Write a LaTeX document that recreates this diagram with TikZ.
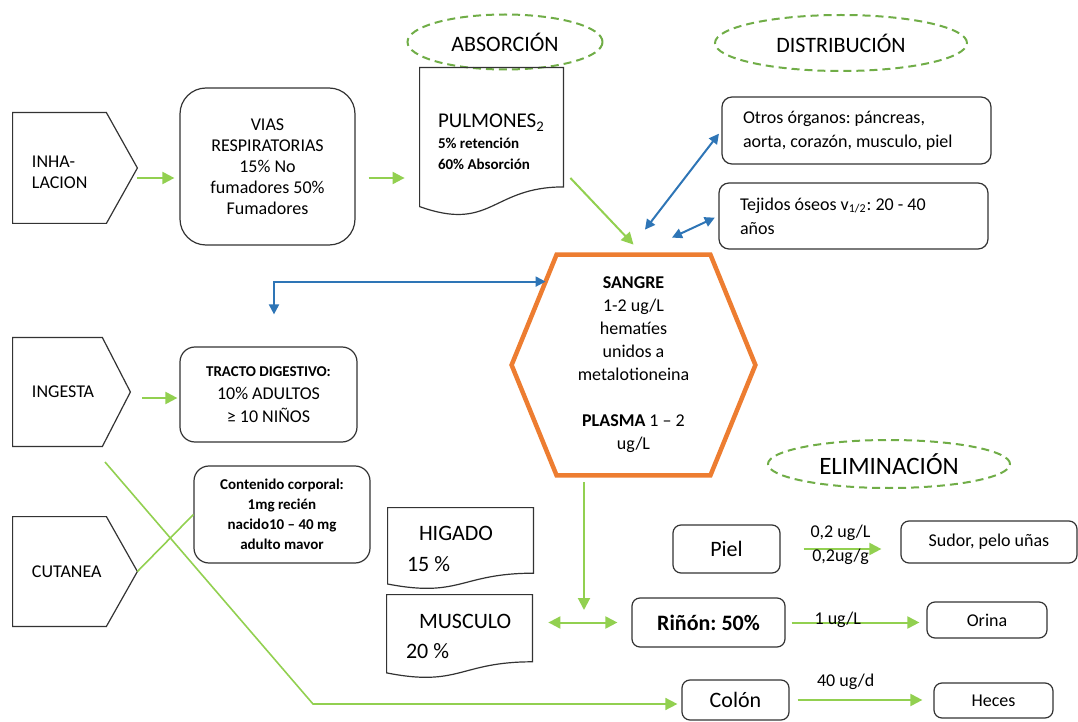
\documentclass[tikz,border=0pt]{standalone}
\usepackage{fontspec}
\setmainfont{Carlito}
\usepackage{xcolor}
\usepackage{tikz}
\usetikzlibrary{shapes, arrows.meta, positioning, calc}
\frenchspacing

\definecolor{verde}{HTML}{92D050}
\definecolor{verdeosc}{HTML}{70AD47}
\definecolor{azul}{HTML}{2E75B6}
\definecolor{naranja}{HTML}{ED7D31}

% contornos dibujados sobre los nodos
\newcommand{\punta}[2]{\draw[borde] (#1.north west) -- ([xshift=-#2]#1.north east) -- (#1.east) -- ([xshift=-#2]#1.south east) -- (#1.south west) -- cycle;}
\newcommand{\hexagono}[2]{\draw[naranja, line width=2.25pt] (#1.west) -- ([xshift=#2]#1.north west) -- ([xshift=-#2]#1.north east) -- (#1.east) -- ([xshift=-#2]#1.south east) -- ([xshift=#2]#1.south west) -- cycle;}
\newcommand{\hoja}[1]{\draw[borde] let \p1=(#1.north west), \p2=(#1.south east) in (\x1,\y1) -- (\x2,\y1) -- (\x2,{\y2+0.198*(\y1-\y2)}) .. controls ({0.5*(\x1+\x2)},{\y2+0.198*(\y1-\y2)}) and ({0.5*(\x1+\x2)},{\y2-0.107*(\y1-\y2)}) .. (\x1,{\y2+0.066*(\y1-\y2)}) -- cycle;}

\begin{document}
\begin{tikzpicture}[x=0.5pt, y=-0.5pt,
    borde/.style={draw=black!80, line width=0.6pt},
    caja/.style={borde, rectangle, rounded corners=4pt, align=center, inner sep=2pt, font=\fontsize{9}{11}\selectfont},
    entrada/.style={rectangle, inner xsep=9.5pt, align=flush left, font=\fontsize{9}{10.5}\selectfont},
    documento/.style={rectangle, inner xsep=9pt, align=flush left, font=\fontsize{10.5}{10.5}\selectfont},
    etapa/.style={ellipse, draw=verdeosc, line width=1pt, dash pattern=on 4pt off 2.5pt, inner sep=1pt, font=\fontsize{11}{13}\selectfont},
    flecha/.style={verde, line width=1pt, -{Triangle[length=6pt,width=6pt]}},
    doble/.style={verde, line width=1pt, {Triangle[length=6pt,width=6pt]}-{Triangle[length=6pt,width=6pt]}},
    flechaazul/.style={azul, line width=1pt, {Triangle[length=5pt,width=5pt]}-{Triangle[length=5pt,width=5pt]}},
    linea/.style={verde, line width=0.8pt},
    etiqueta/.style={text=black, font=\fontsize{9}{12}\selectfont, inner sep=1pt, align=center}]

    \useasboundingbox (0,0) rectangle (1078,722);

    % etapas
    \node[etapa, minimum width=97.5pt, minimum height=27.5pt] (absorcion) at (505,42) {ABSORCIÓN};
    \node[etapa, minimum width=126pt, minimum height=28pt] (distribucion) at (841,43) {DISTRIBUCIÓN};
    \node[etapa, minimum width=121pt, minimum height=24pt, font=\fontsize{12.5}{14}\selectfont] (eliminacion) at (889,464) {ELIMINACIÓN};

    % vias de entrada
    \node[entrada, minimum width=62pt, minimum height=55pt, text width=43pt] (inha) at (75,168) {\mbox{}\\INHA-\\LACION};
    \punta{inha}{15.5pt}
    \node[entrada, minimum width=58.5pt, minimum height=54pt, text width=39.5pt] (ingesta) at (71.5,392) {INGESTA};
    \punta{ingesta}{14pt}
    \node[entrada, minimum width=62pt, minimum height=54.5pt, text width=43pt] (cutanea) at (75,571.5) {CUTANEA};
    \punta{cutanea}{15.5pt}

    \node[caja, rounded corners=13pt, minimum width=87.5pt, minimum height=78.5pt, font=\fontsize{9}{10.5}\selectfont] (vias) at (267.5,166.5) {VIAS\\RESPIRATORIAS\\15\% No\\fumadores 50\%\\Fumadores};
    \node[documento, minimum width=71.5pt, minimum height=74pt, text width=53.5pt] (pulm) at (491.5,142) {PULMONES\textsubscript{2}\\{\fontsize{7.5}{10.5}\selectfont\bfseries 5\% retención}\\{\fontsize{7.5}{10.5}\selectfont\bfseries 60\% Absorción}};
    \hoja{pulm}
    \node[caja, rounded corners=7.5pt, minimum width=88.5pt, minimum height=47.5pt, font=\fontsize{9}{11.5}\selectfont] (tracto) at (268.5,394.5) {{\fontsize{7.5}{9}\selectfont\bfseries TRACTO DIGESTIVO:}\\10\% ADULTOS\\≥ 10 NIÑOS};
    \node[caja, rounded corners=7.5pt, minimum width=88pt, minimum height=48.5pt, font=\fontsize{7.5}{10}\selectfont\bfseries] (contenido) at (282,514.5) {Contenido corporal:\\1mg recién\\nacido10 – 40 mg\\adulto mavor};

    % distribucion
    \node[caja, rounded corners=5pt, minimum width=134.5pt, minimum height=33.5pt, text width=113.5pt, inner xsep=10.5pt, align=flush left, font=\fontsize{9}{12}\selectfont] (otros) at (856.5,130.5) {Otros órganos: páncreas,\\aorta, corazón, musculo, piel};
    \node[caja, rounded corners=5pt, minimum width=134.5pt, minimum height=33pt, text width=113.5pt, inner xsep=10.5pt, align=flush left, font=\fontsize{9}{12}\selectfont] (tejidos) at (853.5,216) {Tejidos óseos v\textsubscript{1/2}: 20 - 40\\años};
    \node[minimum width=121.5pt, minimum height=110pt, align=center, font=\fontsize{9}{11.5}\selectfont] (sangre) at (633.5,365) {\textbf{SANGRE}\\1-2 ug/L\\hematíes\\unidos a\\metalotioneina\\[11.5pt]\textbf{PLASMA} 1 – 2\\ug/L};
    \hexagono{sangre}{22.5pt}
    \node[documento, minimum width=72.5pt, minimum height=40.5pt, text width=53.5pt, inner xsep=9.5pt, font=\fontsize{11}{15.5}\selectfont] (higado) at (460.5,548.5) {\hspace*{6pt}HIGADO\\15 \%};
    \hoja{higado}
    \node[documento, minimum width=72.5pt, minimum height=41.5pt, text width=53.5pt, inner xsep=9.5pt, font=\fontsize{11}{15}\selectfont] (musculo) at (459.5,636.5) {\hspace*{6.5pt}MUSCULO\\20 \%};
    \hoja{musculo}

    % eliminacion
    \node[caja, minimum width=53.5pt, minimum height=24pt, font=\fontsize{11}{13}\selectfont] (piel) at (726.5,549) {Piel};
    \node[caja, minimum width=88pt, minimum height=21pt] (sudor) at (989,542) {Sudor, pelo uñas};
    \node[caja, minimum width=76.5pt, minimum height=24.5pt, font=\fontsize{11}{13}\selectfont\bfseries] (rinon) at (708.5,622.5) {Riñón: 50\%};
    \node[caja, minimum width=60pt, minimum height=18pt] (orina) at (987,620) {Orina};
    \node[caja, minimum width=53.5pt, minimum height=20pt, font=\fontsize{11}{13}\selectfont] (colon) at (735.5,700) {Colón};
    \node[caja, minimum width=59.5pt, minimum height=17.5pt] (heces) at (993.5,700.5) {Heces};

    \coordinate (salida) at (105,462);
    \coordinate (codo) at (313,704);
    \coordinate (bajada) at (584,610);

    \draw[flecha, shorten >=2.5pt] ([yshift=-5pt]inha.east) -- ([yshift=-5pt]inha.east -| vias.west);
    \draw[flecha, shorten <=6.5pt, shorten >=7.5pt] ([yshift=-5.75pt]vias.east) -- ([yshift=-5.75pt]vias.east -| pulm.west);
    \draw[flecha] ([xshift=3.5pt,yshift=-18pt]pulm.east) -- ([yshift=5pt]sangre.north);
    \draw[flechaazul, shorten <=2pt] (otros.west) -- ([xshift=5.75pt,yshift=12.5pt]sangre.north);
    \draw[flechaazul, shorten <=2pt] (tejidos.west) -- ([xshift=19.25pt,yshift=8.5pt]sangre.north);
    \draw[flechaazul, shorten >=16pt] ([xshift=17pt,yshift=-13.5pt]sangre.north west) -| ([xshift=2.75pt]tracto.north);
    \draw[flecha, shorten <=6pt, shorten >=1pt] ([yshift=-3pt]ingesta.east) -- ([yshift=-3pt]ingesta.east -| tracto.west);
    \draw[linea] (cutanea.east) -- (contenido.west);
    \draw[linea, -{Triangle[length=6pt,width=6pt]}, shorten >=2pt] (salida) -- (codo) -- (codo -| colon.west);
    \draw[flecha, shorten <=3.5pt] (sangre.south -| bajada) -- (bajada);
    \draw[doble, shorten <=8pt, shorten >=7pt] (musculo.east |- rinon.west) -- (rinon.west);
    \draw[flecha, shorten <=11.5pt, shorten >=9.5pt] (piel.east) -- (piel.east -| sudor.west) node[etiqueta, midway, yshift=2pt] {0,2 ug/L\\0,2ug/g};
    \draw[flecha, shorten <=3pt, shorten >=3.5pt] (rinon.east) -- (rinon.east -| orina.west) node[etiqueta, pos=0.37, yshift=1.5pt] {1 ug/L};
    \draw[flecha, shorten <=4pt, shorten >=5.5pt] (colon.east) -- (colon.east -| heces.west) node[etiqueta, pos=0.39, yshift=9pt] {40 ug/d};
\end{tikzpicture}
\end{document}
